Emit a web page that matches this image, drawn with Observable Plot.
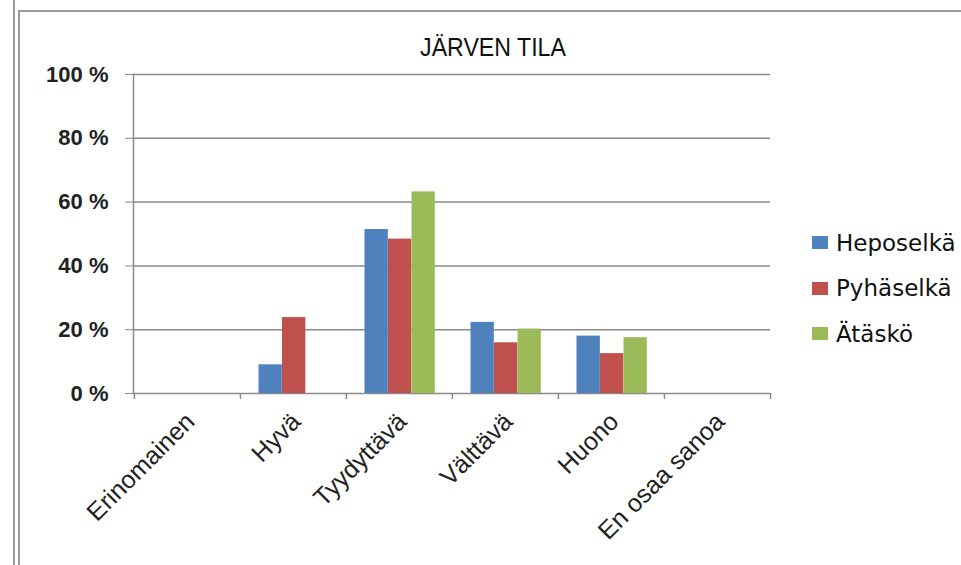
<!DOCTYPE html>
<html>
<head>
<meta charset="utf-8">
<script src="https://cdn.jsdelivr.net/npm/d3@7"></script>
<script src="https://cdn.jsdelivr.net/npm/@observablehq/plot@0.6"></script>
<style>
  html, body { margin: 0; padding: 0; background: #fff; }
  #wrap { position: relative; width: 961px; height: 565px; overflow: hidden; }
  #chart { position: absolute; left: 0; top: 0; }
  .border { position: absolute; background: #9a9a9a; }
  #title { position: absolute; left: 0; width: 986px; top: 32px; text-align: center;
    font-family: "Liberation Sans", sans-serif; font-size: 26px; line-height: 30px; color: #111;
    transform: scaleX(0.89); transform-origin: 493px 0; }
  #legend { position: absolute; left: 812px; top: 220px; font-family: "DejaVu Sans", sans-serif;
    font-size: 23px; color: #111; }
  #legend .row { display: flex; align-items: center; height: 45.5px; }
  #legend .sw { width: 16px; height: 13px; margin-right: 8px; }
</style>
</head>
<body>
<div id="wrap">
  <div id="chart"></div>
  <div class="border" style="left:13px;top:0;width:1.5px;height:565px"></div>
  <div class="border" style="left:18px;top:10px;width:1.5px;height:555px"></div>
  <div class="border" style="left:18px;top:10px;width:943px;height:1.5px"></div>
  <div id="title">JÄRVEN TILA</div>
  <div id="legend"></div>
</div>
<script>
const categories = ["Erinomainen", "Hyvä", "Tyydyttävä", "Välttävä", "Huono", "En osaa sanoa"];
const series = ["Heposelkä", "Pyhäselkä", "Ätäskö"];
const heposelka = [0, 9.0, 51.4, 22.3, 18.0, 0];
const pyhaselka = [0, 23.8, 48.4, 15.9, 12.5, 0];
const atasko = [0, 0, 63.2, 20.2, 17.5, 0];
const yTicks = [0, 20, 40, 60, 80, 100];
const colors = ["#4F81BD", "#C0504D", "#9BBB59"];

const seriesValues = [heposelka, pyhaselka, atasko];
const rows = [];
series.forEach((s, si) => categories.forEach((c, ci) => {
  if (seriesValues[si][ci] > 0) rows.push({series: s, category: c, value: seriesValues[si][ci]});
}));

const W = 961, H = 565, mL = 133, mR = 191, mT = 74, mB = 172;
const bw = (W - mL - mR) / categories.length;
const barW = 23.5, padL = 18.5;

const barMarks = series.map((s, i) => Plot.barY(rows.filter(d => d.series === s), {
  x: "category", y: "value", fill: "series",
  insetLeft: padL + i * barW, insetRight: bw - padL - (i + 1) * barW
}));

const plot = Plot.plot({
  width: W, height: H,
  marginLeft: mL, marginRight: mR, marginTop: mT, marginBottom: mB,
  style: {fontFamily: "'Liberation Sans', sans-serif", background: "transparent"},
  x: {type: "band", domain: categories, padding: 0},
  y: {domain: [0, 100]},
  color: {domain: series, range: colors},
  marks: [
    Plot.ruleY(yTicks, {stroke: "#8a8a8a", strokeWidth: 1.5}),
    Plot.frame({anchor: "left", stroke: "#8a8a8a", strokeWidth: 1.5}),
    Plot.axisY({ticks: yTicks, tickSize: 8, tickPadding: 17, stroke: "#8a8a8a",
      tickFormat: d => `${d} %`, fontSize: 22, fontWeight: "bold", fill: "#222", label: null}),
    Plot.axisX({ticks: categories, text: null, tickSize: 6, dx: -bw / 2, stroke: "#8a8a8a", strokeWidth: 1.5, label: null}),
    Plot.axisX({ticks: categories.slice(-1), text: null, tickSize: 6, dx: bw / 2, stroke: "#8a8a8a", strokeWidth: 1.5, label: null}),
    Plot.axisX({tickSize: 0, tickPadding: 24, tickRotate: -45, dx: 3, fontSize: 25, fill: "#222", label: null}),
    ...barMarks
  ]
});
document.getElementById("chart").appendChild(plot);

const legend = document.getElementById("legend");
series.forEach((s, i) => {
  const row = document.createElement("div");
  row.className = "row";
  const sw = document.createElement("div");
  sw.className = "sw";
  sw.style.background = colors[i];
  const t = document.createElement("span");
  t.textContent = s;
  row.appendChild(sw); row.appendChild(t);
  legend.appendChild(row);
});
</script>
</body>
</html>
